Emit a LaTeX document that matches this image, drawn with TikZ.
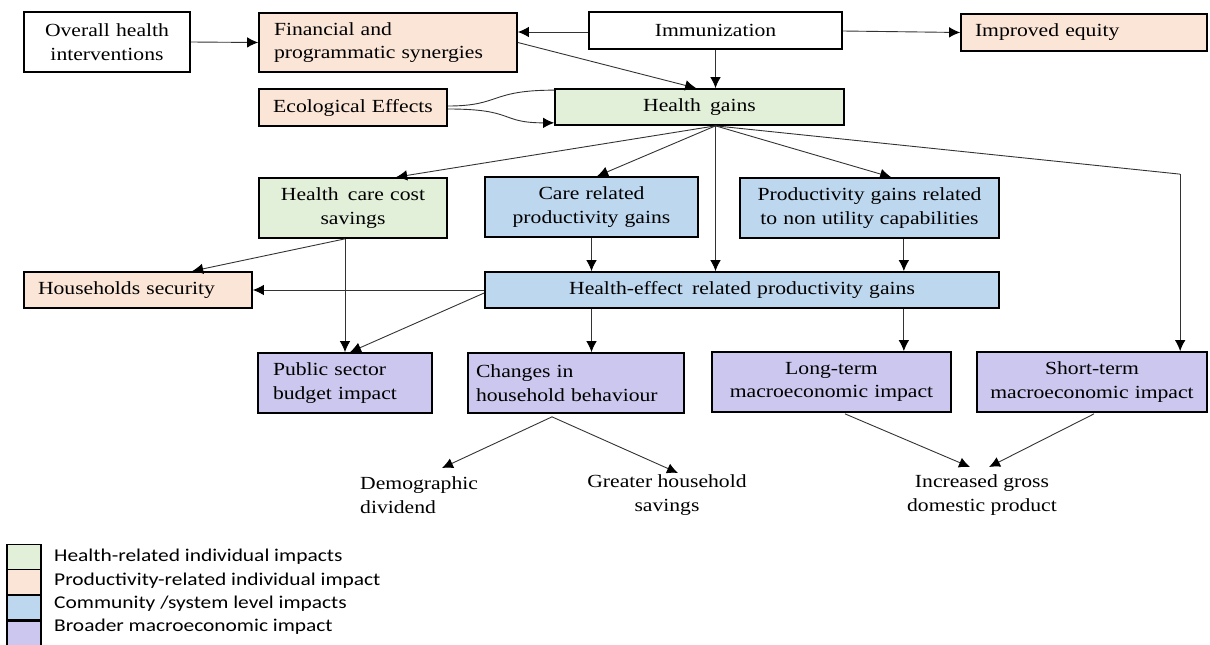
\documentclass[tikz,border=0pt]{standalone}
\usepackage{fontspec}
\setmainfont{Liberation Serif}[FakeStretch=1.17]
\newfontfamily\legfont{Carlito}[FakeStretch=1.19]
\usetikzlibrary{arrows.meta,calc}
\definecolor{cgreen}{RGB}{226,239,217}
\definecolor{cpeach}{RGB}{251,229,214}
\definecolor{cblue}{RGB}{189,215,238}
\definecolor{cpurple}{RGB}{204,199,238}
\begin{document}
\begin{tikzpicture}[x=1pt,y=-1pt,
  bx/.style={draw=black, line width=1.7pt, inner ysep=0pt,
    font=\fontsize{18.5}{23.5}\selectfont},
  lbl/.style={inner sep=0pt, font=\fontsize{18.5}{23.5}\selectfont},
  conn/.style={draw=black!80, line width=0.9pt},
  arr/.style={conn, -{Latex[length=11pt,width=10.5pt,color=black]}},
  legbox/.style={draw=black, line width=1.7pt, minimum width=34pt, minimum height=25pt, inner sep=0pt},
  legtxt/.style={inner sep=0pt, anchor=west, font=\legfont\fontsize{18}{22}\selectfont},
]
\useasboundingbox (0,0) rectangle (1210,645);

% top row
\node[bx, minimum height=60pt, text width=150pt, inner xsep=8pt, align=center] (ovr) at (107,42) {Overall health\\interventions};
\node[bx, fill=cpeach, minimum height=59pt, text width=228pt, inner xsep=15pt, align=left] (fin) at (388,42.5) {Financial and\\programmatic synergies};
\node[bx, minimum height=37pt, text width=237pt, inner xsep=8pt, align=center] (imm) at (715.5,30.5) {Immunization};
\node[bx, fill=cpeach, minimum height=37pt, text width=218pt, inner xsep=14pt, align=left] (eq) at (1084,32.5) {Improved equity};

% second row
\node[bx, fill=cpeach, minimum height=37pt, text width=172pt, inner xsep=8pt, align=center] (eco) at (353,107.5) {Ecological Effects};
\node[bx, fill=cgreen, minimum height=36pt, text width=273pt, inner xsep=8pt, align=center] (hg) at (699.5,107) {Health\hspace{0.5em}gains};

% third row
\node[bx, fill=cgreen, minimum height=60pt, text width=176pt, inner xsep=6pt, align=center] (hcs) at (353,208) {Health\hspace{0.5em}care cost\\savings};
\node[bx, fill=cblue, minimum height=60pt, text width=203pt, inner xsep=5pt, align=center] (crp) at (591.5,207) {Care related\\productivity gains};
\node[bx, fill=cblue, minimum height=60pt, text width=249pt, inner xsep=5pt, align=center] (pgr) at (869.5,208) {Productivity gains related\\to non utility capabilities};

% fourth row
\node[bx, fill=cpeach, minimum height=36pt, text width=200pt, inner xsep=14pt, align=left] (hs) at (138,290) {Households security};
\node[bx, fill=cblue, minimum height=36pt, text width=498pt, inner xsep=8pt, align=center] (her) at (742,290) {Health-effect\hspace{0.5em}related productivity gains};

% fifth row
\node[bx, fill=cpurple, minimum height=60pt, text width=144pt, inner xsep=15pt, align=left] (psb) at (345,383) {Public sector\\budget impact};
\node[bx, fill=cpurple, minimum height=60pt, text width=200pt, inner xsep=8pt, align=left] (chb) at (576,383) {Changes in\\household behaviour};
\node[bx, fill=cpurple, minimum height=60pt, text width=229pt, inner xsep=5pt, align=center] (ltm) at (831.5,382) {Long-term\\macroeconomic impact};
\node[bx, fill=cpurple, minimum height=60pt, text width=222pt, inner xsep=4pt, align=center] (stm) at (1092,382) {Short-term\\macroeconomic impact};

% outcome texts
\node[lbl, anchor=west, align=left] (dem) at (360,495) {Demographic\\dividend};
\node[lbl, align=center] (ghs) at (667,495) {Greater household\\savings};
\node[lbl, align=center] (igdp) at (982,495) {Increased gross\\domestic product};

% helper coordinates
\coordinate (fo) at (imm.south |- hg.south);
\coordinate (iw) at ($(imm.west)+(0,1.5)$);
\coordinate (hb) at ($(hcs.south)+(-8,0)$);
\coordinate (pb) at ($(pgr.south east)+(-96,0)$);
\coordinate (cr) at ($(stm.north west)+(204,-177)$);

% connectors top
\draw[arr] (ovr.east) -- (fin.west);
\draw[arr] (iw) -- (iw -| fin.east);
\draw[arr] ($(imm.east)+(0,0.5)$) -- (eq.west);
\draw[arr] (fin.east) -- ($(hg.north west)+(142,0)$);
\draw[arr] (imm.south) -- (imm.south |- hg.north);
\draw[conn] ($(eco.east)+(0,-1.5)$) .. controls ($(eco.east)+(53,-1.5)$) and ($(hg.north west)+(-65,2)$) .. ($(hg.north west)+(0,2)$);
\draw[arr] ($(eco.east)+(0,1.5)$) .. controls ($(eco.east)+(68,1.5)$) and ($(hg.south west)+(-55,-3)$) .. ($(hg.south west)+(0,-3)$);

% fan from health gains
\draw[arr] (fo) -- ($(hcs.north west)+(138,0)$);
\draw[arr] (fo) -- ($(crp.north west)+(113,0)$);
\draw[arr] (fo) -- (fo |- her.north);
\draw[arr] (fo) -- ($(pgr.north west)+(152,0)$);
\draw[conn] (fo) -- (cr);
\draw[arr] (cr) -- (cr |- stm.north);

% middle
\draw[arr] (hb) -- ($(hs.north west)+(169,0)$);
\draw[arr] (hb) -- (hb |- psb.north);
\draw[arr] (her.west) -- (hs.east);
\draw[arr] ($(her.west)+(0,3)$) -- ($(psb.north)+(5,0)$);
\draw[arr] (crp.south) -- (crp.south |- her.north);
\draw[arr] (pb) -- (pb |- her.north);
\draw[arr] (crp.south |- her.south) -- (crp.south |- chb.north);
\draw[arr] (pb |- her.south) -- (pb |- ltm.north);

% bottom
\draw[arr] ($(chb.south)+(-24,3)$) -- ($(dem.west)+(82,-27)$);
\draw[arr] ($(chb.south)+(-24,3)$) -- ($(ghs.center)+(11,-22)$);
\draw[arr] ($(ltm.south)+(13.5,1)$) -- ($(igdp.center)+(-12,-28)$);
\draw[arr] ($(stm.south)+(2,1)$) -- ($(igdp.center)+(7,-28)$);

% legend
\node[legbox, fill=cgreen] (lg1) at (24,557) {};
\node[legbox, fill=cpeach] (lg2) at (24,582) {};
\node[legbox, fill=cblue] (lg3) at (24,607.5) {};
\node[legbox, fill=cpurple] (lg4) at (24,634) {};
\node[legtxt] (lt1) at (54,557) {Health-related individual impacts};
\node[legtxt] (lt2) at (54,581) {Productivity-related individual impact};
\node[legtxt] (lt3) at (54,604) {Community /system level impacts};
\node[legtxt] (lt4) at (54,627) {Broader macroeconomic impact};
\end{tikzpicture}
\end{document}
